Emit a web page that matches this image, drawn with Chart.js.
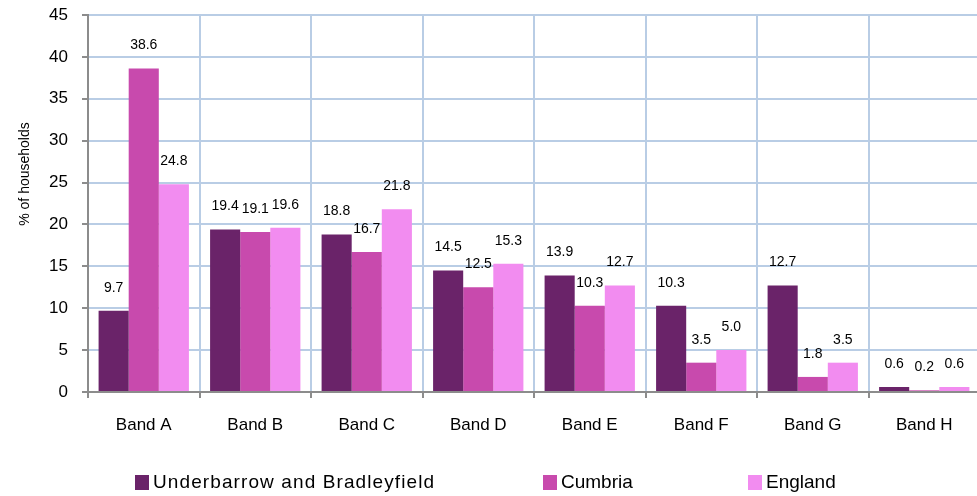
<!DOCTYPE html>
<html><head><meta charset="utf-8">
<script src="https://cdn.jsdelivr.net/npm/chart.js@4/dist/chart.umd.min.js"></script>
<style>html,body{margin:0;padding:0;background:#fff;overflow:hidden}canvas{display:block}</style>
</head><body>
<canvas id="c" width="980" height="496" style="width:980px;height:496px"></canvas>
<script>
const categories = ['Band A','Band B','Band C','Band D','Band E','Band F','Band G','Band H'];
const underbarrow = [9.7, 19.4, 18.8, 14.5, 13.9, 10.3, 12.7, 0.6];
const cumbria     = [38.6, 19.1, 16.7, 12.5, 10.3, 3.5, 1.8, 0.2];
const england     = [24.8, 19.6, 21.8, 15.3, 12.7, 5.0, 3.5, 0.6];
const seriesNames = ['Underbarrow and Bradleyfield', 'Cumbria', 'England'];
const seriesColors = ['#6a2369', '#c84aad', '#f28cf0'];
const yAxisTitle = '% of households';
const yMin = 0, yMax = 45, yStep = 5;

const FONT = "'Liberation Sans', Arial, sans-serif";
const GRID = '#b9cde5';
const AXIS = '#8c8c8c';

const extras = {
  id: 'extras',
  afterDatasetsDraw(chart) {
    const ctx = chart.ctx;
    ctx.save();
    // data labels
    ctx.font = '14px ' + FONT;
    ctx.fillStyle = '#000';
    ctx.textAlign = 'center';
    ctx.textBaseline = 'middle';
    chart.data.datasets.forEach((ds, i) => {
      const meta = chart.getDatasetMeta(i);
      meta.data.forEach((el, j) => {
        ctx.fillText(ds.data[j].toFixed(1), el.x, el.y - 23);
      });
    });
    // y title
    ctx.save();
    ctx.translate(25, 174);
    ctx.rotate(-Math.PI / 2);
    ctx.font = '14px ' + FONT;
    ctx.fillText(yAxisTitle, 0, 0);
    ctx.restore();
    // legend
    const boxX = [135, 543, 748];
    const spacing = ['1.1px', '0px', '0px'];
    ctx.font = '19px ' + FONT;
    ctx.textAlign = 'left';
    chart.data.datasets.forEach((ds, i) => {
      ctx.fillStyle = ds.backgroundColor;
      ctx.fillRect(boxX[i], 475, 14, 15);
      ctx.fillStyle = '#000';
      ctx.letterSpacing = spacing[i];
      ctx.fillText(ds.label, boxX[i] + 18, 483);
    });
    ctx.letterSpacing = '0px';
    ctx.restore();
  }
};

new Chart(document.getElementById('c'), {
  type: 'bar',
  data: {
    labels: categories,
    datasets: [
      { label: seriesNames[0], data: underbarrow, backgroundColor: seriesColors[0] },
      { label: seriesNames[1], data: cumbria, backgroundColor: seriesColors[1] },
      { label: seriesNames[2], data: england, backgroundColor: seriesColors[2] }
    ]
  },
  options: {
    responsive: false,
    animation: false,
    devicePixelRatio: 1,
    layout: { padding: { top: 15, right: 0, left: 0, bottom: 0 } },
    datasets: { bar: { categoryPercentage: 0.81, barPercentage: 1.0, borderWidth: 0 } },
    plugins: { legend: { display: false }, tooltip: { enabled: false } },
    scales: {
      x: {
        offset: true,
        grid: {
          offset: true,
          color: (c) => (c.index === 0 ? AXIS : GRID),
          lineWidth: 2,
          tickColor: AXIS,
          tickLength: 6,
          drawTicks: true
        },
        border: { color: AXIS, width: 2 },
        ticks: { color: '#000', font: { size: 17, family: FONT }, padding: 17, maxRotation: 0 },
        afterFit(s) { s.height = 104; s.paddingLeft = 0; s.paddingRight = 0; }
      },
      y: {
        min: yMin, max: yMax,
        grid: {
          color: (c) => (c.tick && c.tick.value === 0 ? AXIS : GRID),
          lineWidth: 2,
          tickColor: AXIS,
          tickLength: 6
        },
        border: { color: AXIS, width: 2 },
        ticks: { stepSize: yStep, color: '#000', font: { size: 17, family: FONT }, padding: 14 },
        afterFit(s) { s.width = 88; s.paddingTop = 0; s.paddingBottom = 0; }
      }
    }
  },
  plugins: [extras]
});
</script>
</body></html>
